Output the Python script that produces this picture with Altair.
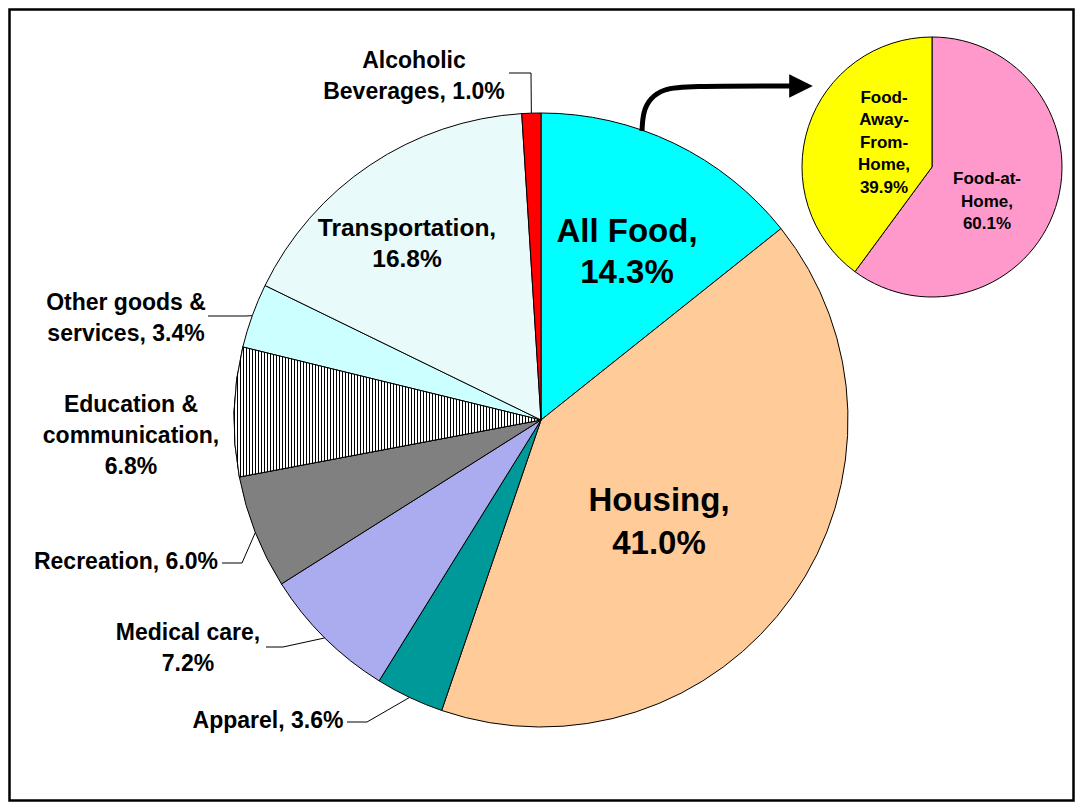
import math
import altair as alt
import pandas as pd

# ---------------- data ----------------
categories = ["All Food", "Housing", "Apparel", "Medical care", "Recreation",
              "Education & communication", "Other goods & services",
              "Transportation", "Alcoholic Beverages"]
shares = [14.3, 41.0, 3.6, 7.2, 6.0, 6.8, 3.4, 16.8, 1.0]

food_categories = ["Food-at-Home", "Food-Away-From-Home"]
food_shares = [60.1, 39.9]

# ---------------- styles ----------------
colors = ["#00FFFF", "#FFCC99", "#009999", "#ABABF0", "#808080",
          "#FFFFFF", "#CCFFFF", "#E8FAFA", "#FF0000"]
food_colors = ["#FF99CC", "#FFFF00"]

W, H = 1067, 794
OFF = 8  # page margin -> chart coordinates
MAIN_C = (541 - OFF, 420 - OFF)
MAIN_R = 307
FOOD_C = (932 - OFF, 167 - OFF)
FOOD_R = 130
FONT = "Liberation Sans"

# label layout: category -> (lines, center x, first baseline, line step, size)  (page coords)
label_layout = {
    "All Food": (["All Food,", "{v}"], 627, 242, 41, 33),
    "Housing": (["Housing,", "{v}"], 659, 511, 43, 33),
    "Apparel": (["Apparel, {v}"], 268, 728, 0, 23),
    "Medical care": (["Medical care,", "{v}"], 188, 640, 31, 23),
    "Recreation": (["Recreation, {v}"], 126, 569, 0, 23),
    "Education & communication": (["Education &", "communication,", "{v}"], 131, 412, 31, 23),
    "Other goods & services": (["Other goods &", "services, {v}"], 126, 310, 31, 23),
    "Transportation": (["Transportation,", "{v}"], 407, 236, 31, 24.5),
    "Alcoholic Beverages": (["Alcoholic", "Beverages, {v}"], 414, 68, 31, 23),
}
food_label_layout = {
    "Food-at-Home": (["Food-at-", "Home,", "{v}"], 987, 184, 22.5, 17),
    "Food-Away-From-Home": (["Food-", "Away-", "From-", "Home,", "{v}"], 884, 103, 22.4, 17),
}
# leader lines: category -> label end point, elbow point (page coords); ends on rim
leader_layout = {
    "Alcoholic Beverages": [(509, 73), (531, 73)],
    "Other goods & services": [(208, 316), (246, 316)],
    "Recreation": [(222, 563), (242, 563)],
    "Medical care": [(266, 647), (283, 647)],
    "Apparel": [(347, 722), (367, 722)],
}
arrow_path = [(642, 131), (643, 112), (650, 98), (664, 89), (684, 86), (792, 86)]
arrow_head = (801, 86)

# ---------------- tables ----------------
main_df = pd.DataFrame({"cat": categories, "share": shares, "idx": range(len(categories))})
food_df = pd.DataFrame({"cat": food_categories, "share": food_shares,
                        "idx": range(len(food_categories))})

rows = []
for cats, vals, layout in ((categories, shares, label_layout),
                           (food_categories, food_shares, food_label_layout)):
    for c, v in zip(cats, vals):
        lines, cx, by, step, size = layout[c]
        for i, ln in enumerate(lines):
            rows.append({"text": ln.replace("{v}", f"{v:.1f}%"),
                         "x": cx - OFF, "y": by + i * step - OFF, "size": size})
text_df = pd.DataFrame(rows)

total = sum(shares)
cum = 0.0
mid_frac = {}
for c, v in zip(categories, shares):
    mid_frac[c] = (cum + v / 2) / total
    cum += v

lrows = []
for c, pts in leader_layout.items():
    ang = 2 * math.pi * mid_frac[c]
    rim = (MAIN_C[0] + MAIN_R * math.sin(ang), MAIN_C[1] - MAIN_R * math.cos(ang))
    allpts = [(p[0] - OFF, p[1] - OFF) for p in pts] + [rim]
    for k, (px, py) in enumerate(allpts):
        lrows.append({"g": c, "o": k, "x": px, "y": py})
leader_df = pd.DataFrame(lrows)

arrow_df = pd.DataFrame([{"o": k, "x": p[0] - OFF, "y": p[1] - OFF} for k, p in enumerate(arrow_path)])
head_df = pd.DataFrame([{"x": arrow_head[0] - OFF, "y": arrow_head[1] - OFF}])

# ---------------- stripes gradient for Education (1px black / 2px white) ----------------
bbox_w = MAIN_R  # slice spans from the left rim to the centre
stops = []
px0 = 0
while px0 < bbox_w:
    s = px0 / bbox_w
    e1 = min((px0 + 1) / bbox_w, 1.0)
    e2 = min((px0 + 3) / bbox_w, 1.0)
    stops += [{"offset": s, "color": "#000000"}, {"offset": e1, "color": "#000000"},
              {"offset": e1, "color": "#FFFFFF"}, {"offset": e2, "color": "#FFFFFF"}]
    px0 += 3
stripe_grad = {"gradient": "linear", "x1": 0, "y1": 0, "x2": 1, "y2": 0, "stops": stops}

# ---------------- charts ----------------
main_pie = alt.Chart(main_df).mark_arc(outerRadius=MAIN_R, stroke="black", strokeWidth=1).encode(
    theta=alt.Theta("share:Q", stack=True),
    order=alt.Order("idx:Q"),
    color=alt.Color("cat:N", scale=alt.Scale(domain=categories, range=colors), legend=None),
    x=alt.value(MAIN_C[0]), y=alt.value(MAIN_C[1]),
)

is_edu = alt.datum.cat == "Education & communication"
stripes = alt.Chart(main_df).mark_arc(outerRadius=MAIN_R, fill=stripe_grad, stroke="black",
                                      strokeWidth=1).encode(
    theta=alt.Theta("share:Q", stack=True),
    order=alt.Order("idx:Q"),
    fillOpacity=alt.condition(is_edu, alt.value(1), alt.value(0)),
    strokeOpacity=alt.condition(is_edu, alt.value(1), alt.value(0)),
    x=alt.value(MAIN_C[0]), y=alt.value(MAIN_C[1]),
)

food_pie = alt.Chart(food_df).mark_arc(outerRadius=FOOD_R, stroke="black", strokeWidth=1).encode(
    theta=alt.Theta("share:Q", stack=True),
    order=alt.Order("idx:Q"),
    color=alt.Color("cat:N", scale=alt.Scale(domain=food_categories, range=food_colors), legend=None),
    x=alt.value(FOOD_C[0]), y=alt.value(FOOD_C[1]),
)

leaders = alt.Chart(leader_df).mark_line(color="black", strokeWidth=1).encode(
    x=alt.X("x:Q", scale=None, axis=None),
    y=alt.Y("y:Q", scale=None, axis=None),
    detail="g:N", order="o:Q",
)

arrow = alt.Chart(arrow_df).mark_line(color="black", strokeWidth=5, interpolate="basis").encode(
    x=alt.X("x:Q", scale=None, axis=None),
    y=alt.Y("y:Q", scale=None, axis=None),
    order="o:Q",
)
head = alt.Chart(head_df).mark_point(shape="M -1 -1 L 1 0 L -1 1 Z", size=560, filled=True,
                                     color="black", opacity=1).encode(
    x=alt.X("x:Q", scale=None, axis=None),
    y=alt.Y("y:Q", scale=None, axis=None),
)

labels = alt.Chart(text_df).mark_text(font=FONT, fontWeight="bold", align="center",
                                      baseline="alphabetic", color="black").encode(
    x=alt.X("x:Q", scale=None, axis=None),
    y=alt.Y("y:Q", scale=None, axis=None),
    text="text:N",
    size=alt.Size("size:Q", scale=None, legend=None),
)

border = alt.Chart(pd.DataFrame([{"k": 0}])).mark_rect(
    fill="transparent", stroke="black", strokeWidth=2.5).encode(
    x=alt.value(1.5), x2=alt.value(W - 1.5), y=alt.value(1.5), y2=alt.value(H - 1.5))

chart = alt.layer(main_pie, stripes, food_pie, leaders, arrow, head, labels, border).resolve_scale(
    theta="independent", color="independent"
).properties(
    width=W, height=H, padding=0, autosize=alt.AutoSizeParams(type="none"), background="white"
).configure_view(stroke=None)

chart.save("out.html", embed_options={"renderer": "svg", "actions": False})
